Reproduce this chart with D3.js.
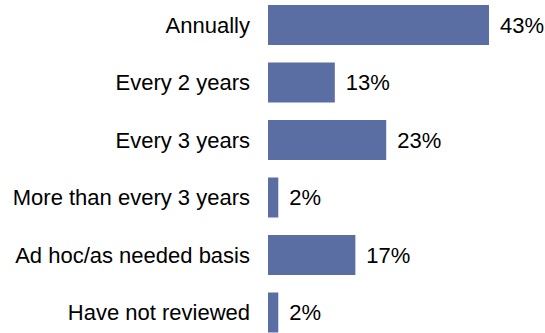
<!DOCTYPE html>
<html>
<head>
<meta charset="utf-8">
<script src="https://cdn.jsdelivr.net/npm/d3@7"></script>
<style>
  html, body { margin: 0; padding: 0; background: #ffffff; }
  svg { display: block; }
  text { font-family: "Liberation Sans", Arial, sans-serif; fill: #000; }
</style>
</head>
<body>
<div id="chart"></div>
<script>
// Review frequency responses (percent of respondents)
const categories = [
  "Annually",
  "Every 2 years",
  "Every 3 years",
  "More than every 3 years",
  "Ad hoc/as needed basis",
  "Have not reviewed"
];
const values = [43, 13, 23, 2, 17, 2];
const valueLabels = ["43%", "13%", "23%", "2%", "17%", "2%"];

const width = 545, height = 333;
const barColor = "#5b6ea3";
const fontSize = 22;

const svg = d3.select("#chart").append("svg")
  .attr("width", width)
  .attr("height", height);

const x = d3.scaleLinear()
  .domain([0, 43])
  .range([268, 489]);

const step = 57.5;
const pInner = 17.5 / step;
const y = d3.scaleBand()
  .domain(categories)
  .range([5 - step * pInner / 2, 5 - step * pInner / 2 + step * categories.length])
  .paddingInner(pInner)
  .paddingOuter(pInner / 2);

const rows = categories.map((c, i) => ({ cat: c, value: values[i], label: valueLabels[i] }));

// bars
svg.append("g").selectAll("rect")
  .data(rows)
  .join("rect")
  .attr("x", x(0))
  .attr("y", d => y(d.cat))
  .attr("width", d => x(d.value) - x(0))
  .attr("height", y.bandwidth())
  .attr("fill", barColor);

// category labels
svg.append("g").selectAll("text")
  .data(rows)
  .join("text")
  .attr("x", x(0) - 18)
  .attr("y", d => y(d.cat) + y.bandwidth() / 2)
  .attr("dy", "0.35em")
  .attr("text-anchor", "end")
  .style("font-size", fontSize + "px")
  .text(d => d.cat);

// value labels
svg.append("g").selectAll("text")
  .data(rows)
  .join("text")
  .attr("x", d => x(d.value) + 11)
  .attr("y", d => y(d.cat) + y.bandwidth() / 2)
  .attr("dy", "0.35em")
  .attr("text-anchor", "start")
  .style("font-size", fontSize + "px")
  .text(d => d.label);
</script>
</body>
</html>
